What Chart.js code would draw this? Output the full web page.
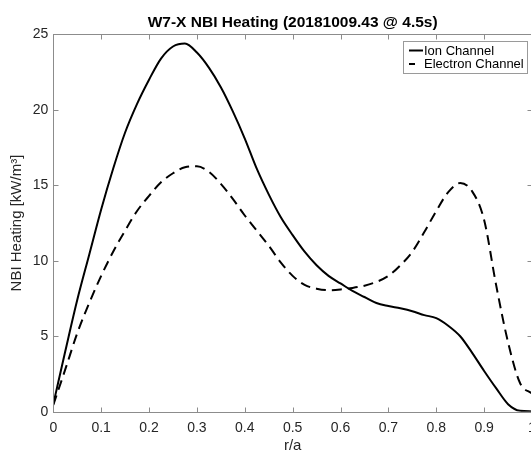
<!DOCTYPE html>
<html>
<head>
<meta charset="utf-8">
<script src="https://cdn.jsdelivr.net/npm/chart.js@4.4.1/dist/chart.umd.min.js"></script>
<style>
  html, body { margin: 0; padding: 0; background: #fff; overflow: hidden; }
  #wrap { width: 545px; height: 451px; }
</style>
</head>
<body>
<div id="wrap"><canvas id="heatChart" width="545" height="451"></canvas></div>
<script>
// Chart Data
const rValues = [
  0, 0.025, 0.05, 0.075, 0.1, 0.125, 0.15, 0.175, 0.2, 0.225,
  0.25, 0.275, 0.3, 0.325, 0.35, 0.375, 0.4, 0.425, 0.45, 0.475,
  0.5, 0.525, 0.55, 0.575, 0.6, 0.625, 0.65, 0.675, 0.7, 0.725,
  0.75, 0.775, 0.8, 0.825, 0.85, 0.875, 0.9, 0.925, 0.95, 0.975, 1.0,
];
const ionHeating = [
  0.5, 4.0, 7.4, 10.4, 13.4, 16.1, 18.5, 20.4, 22.0, 23.4,
  24.2, 24.4, 23.8, 22.8, 21.5, 19.9, 18.1, 16.1, 14.4, 12.9,
  11.7, 10.6, 9.7, 9.0, 8.5, 8.0, 7.6, 7.2, 7.0, 6.85,
  6.66, 6.4, 6.2, 5.7, 5.0, 3.9, 2.7, 1.56, 0.5, 0.06, 0.02,
];
const electronHeating = [
  0.45, 2.8, 5.2, 7.2, 9.0, 10.6, 12.0, 13.3, 14.3, 15.2,
  15.8, 16.2, 16.26, 15.9, 15.1, 14.1, 13.0, 12.0, 11.0, 9.9,
  9.0, 8.4, 8.15, 8.05, 8.1, 8.2, 8.35, 8.6, 9.0, 9.7,
  10.6, 11.9, 13.3, 14.55, 15.15, 14.6, 12.7, 8.4, 4.6, 1.9, 1.2,
];
const xTicks = [0, 0.1, 0.2, 0.3, 0.4, 0.5, 0.6, 0.7, 0.8, 0.9, 1];
const yTicks = [0, 5, 10, 15, 20, 25];

const FONT = "'Liberation Sans', Arial, Helvetica, sans-serif";
const AXIS_GREY = "#8c8c8c";
const TEXT_GREY = "#262626";

// MATLAB-ish box with inward ticks
const boxPlugin = {
  id: "matlabBox",
  afterDatasetsDraw(chart) {
    const { ctx, chartArea: a, scales } = chart;
    ctx.save();
    ctx.strokeStyle = AXIS_GREY;
    ctx.lineWidth = 1;
    const l = Math.round(a.left) + 0.5, r = Math.round(a.right) + 0.5;
    const t = Math.round(a.top) + 0.5, b = Math.round(a.bottom) + 0.5;
    ctx.strokeRect(l, t, r - l, b - t);
    ctx.beginPath();
    xTicks.forEach((v) => {
      const px = Math.round(scales.x.getPixelForValue(v)) + 0.5;
      ctx.moveTo(px, b); ctx.lineTo(px, b - 5);
      ctx.moveTo(px, t); ctx.lineTo(px, t + 5);
    });
    yTicks.forEach((v) => {
      const py = Math.round(scales.y.getPixelForValue(v)) + 0.5;
      ctx.moveTo(l, py); ctx.lineTo(l + 5, py);
      ctx.moveTo(r, py); ctx.lineTo(r - 5, py);
    });
    ctx.stroke();
    ctx.restore();
  },
};

// Boxed legend in the top-right corner
const legendPlugin = {
  id: "matlabLegend",
  afterDraw(chart) {
    const { ctx } = chart;
    const x0 = 403, y0 = 41, w = 124, h = 32;
    ctx.save();
    ctx.fillStyle = "#fff";
    ctx.fillRect(x0, y0, w, h);
    ctx.strokeStyle = "#9a9a9a";
    ctx.lineWidth = 1;
    ctx.strokeRect(x0 + 0.5, y0 + 0.5, w, h);
    ctx.font = "13px " + FONT;
    ctx.textBaseline = "middle";
    chart.data.datasets.forEach((ds, i) => {
      const y = y0 + 9.5 + i * 13.5;
      ctx.strokeStyle = "#000";
      ctx.lineWidth = 2;
      ctx.beginPath();
      if (ds.borderDash && ds.borderDash.length) {
        ctx.moveTo(409, y); ctx.lineTo(415, y);
      } else {
        ctx.moveTo(409, y); ctx.lineTo(423, y);
      }
      ctx.stroke();
      ctx.fillStyle = "#000";
      ctx.fillText(ds.label, 424, y + 0.5);
    });
    ctx.restore();
  },
};

const ctx = document.getElementById("heatChart").getContext("2d");
const heatChart = new Chart(ctx, {
  type: "line",
  data: {
    datasets: [
      {
        label: "Ion Channel",
        data: rValues.map((r, i) => ({ x: r, y: ionHeating[i] })),
        borderColor: "#000",
        borderWidth: 2,
        pointRadius: 0,
        cubicInterpolationMode: "monotone",
        fill: false,
      },
      {
        label: "Electron Channel",
        data: rValues.map((r, i) => ({ x: r, y: electronHeating[i] })),
        borderColor: "#000",
        borderWidth: 2,
        borderDash: [10, 6],
        pointRadius: 0,
        cubicInterpolationMode: "monotone",
        fill: false,
      },
    ],
  },
  options: {
    responsive: false,
    animation: false,
    layout: { autoPadding: false, padding: { left: 0, right: 13, top: 0, bottom: 0 } },
    scales: {
      x: {
        type: "linear",
        min: 0,
        max: 1,
        afterBuildTicks: (s) => { s.ticks = xTicks.map((v) => ({ value: v })); },
        afterFit: (s) => { s.height = 39.3; },
        grid: { display: false, drawTicks: false },
        border: { display: false },
        ticks: {
          padding: 8,
          color: TEXT_GREY,
          font: { family: FONT, size: 14 },
          maxRotation: 0,
          autoSkip: false,
          callback: (v) => String(v),
        },
        title: {
          display: true,
          text: "r/a",
          color: TEXT_GREY,
          font: { family: FONT, size: 15 },
          padding: { top: 3, bottom: -4 },
        },
      },
      y: {
        min: 0,
        max: 25,
        afterBuildTicks: (s) => { s.ticks = yTicks.map((v) => ({ value: v })); },
        afterFit: (s) => { s.width = 53.3; },
        grid: { display: false, drawTicks: false },
        border: { display: false },
        ticks: {
          padding: 5,
          color: TEXT_GREY,
          font: { family: FONT, size: 14 },
          callback: (v) => String(v),
        },
        title: {
          display: true,
          text: "NBI Heating [kW/m³]",
          color: TEXT_GREY,
          font: { family: FONT, size: 15 },
          padding: { top: 8, bottom: 0 },
        },
      },
    },
    plugins: {
      legend: { display: false },
      tooltip: { enabled: false },
      title: {
        display: true,
        fullSize: false,
        text: "W7-X NBI Heating (20181009.43 @ 4.5s)",
        color: "#000",
        font: { family: FONT, size: 15.5, weight: "bold" },
        padding: { top: 13, bottom: 2.8 },
      },
    },
  },
  plugins: [boxPlugin, legendPlugin],
});
</script>
</body>
</html>
